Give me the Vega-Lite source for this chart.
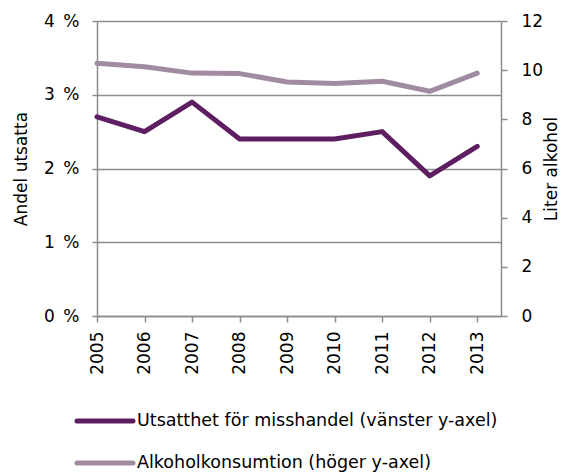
{
  "$schema": "https://vega.github.io/schema/vega-lite/v6.json",
  "width": 404,
  "height": 295,
  "autosize": {"type": "none"},
  "padding": {"left": 97, "top": 21, "right": 66, "bottom": 158},
  "background": "white",
  "config": {
    "font": "DejaVu Sans",
    "view": {"stroke": null},
    "axis": {"labelFont": "DejaVu Sans", "titleFont": "DejaVu Sans", "labelColor": "black", "titleColor": "black", "titleFontWeight": "normal", "domainColor": "#8c8c8c", "tickColor": "#8c8c8c", "gridColor": "#8c8c8c", "domainWidth": 1.5, "tickWidth": 1.5, "gridWidth": 1.5},
    "legend": {"labelFont": "DejaVu Sans", "labelColor": "black"}
  },
  "data": {
    "values": [
      {"year": 2005, "andel": 2.7, "liter": 10.28},
      {"year": 2006, "andel": 2.5, "liter": 10.14},
      {"year": 2007, "andel": 2.9, "liter": 9.88},
      {"year": 2008, "andel": 2.4, "liter": 9.86},
      {"year": 2009, "andel": 2.4, "liter": 9.52},
      {"year": 2010, "andel": 2.4, "liter": 9.46},
      {"year": 2011, "andel": 2.5, "liter": 9.55},
      {"year": 2012, "andel": 1.9, "liter": 9.14},
      {"year": 2013, "andel": 2.3, "liter": 9.88}
    ]
  },
  "encoding": {
    "x": {
      "field": "year", "type": "quantitative",
      "scale": {"domain": [2005, 2013.5], "nice": false, "zero": false},
      "axis": {"title": null, "values": [2005,2006,2007,2008,2009,2010,2011,2012,2013], "format": "d", "labelAngle": -90, "labelAlign": "right", "labelBaseline": "middle", "labelFontSize": 17, "tickSize": 6, "labelPadding": 9, "grid": false, "labelFlush": false, "labelOverlap": false}
    }
  },
  "layer": [
    {
      "mark": {"type": "line", "strokeWidth": 5, "strokeCap": "round", "strokeJoin": "round"},
      "encoding": {
        "y": {
          "field": "andel", "type": "quantitative",
          "scale": {"domain": [0, 4], "nice": false},
          "axis": {"orient": "left", "title": "Andel utsatta", "titleFontSize": 17, "titlePadding": 13, "values": [0,1,2,3,4], "labelExpr": "datum.value + '\u2002%'", "labelFontSize": 17, "tickSize": 5, "labelPadding": 13, "grid": true}
        },
        "color": {
          "datum": "Utsatthet för misshandel (vänster y-axel)", "type": "nominal",
          "scale": {"domain": ["Utsatthet för misshandel (vänster y-axel)", "Alkoholkonsumtion (höger y-axel)"], "range": ["#5e1e62", "#a08ba2"]},
          "legend": {
            "title": null, "orient": "none", "legendX": -4, "legendY": 388, "padding": 0,
            "symbolType": "M-3,0H3", "symbolSize": 348, "symbolStrokeWidth": 5,
            "labelFontSize": 17.5, "labelOffset": 20, "rowPadding": 20, "labelLimit": 500,
            "encode": {"symbols": {"update": {"strokeCap": {"value": "round"}}}}
          }
        }
      }
    },
    {
      "mark": {"type": "line", "strokeWidth": 5, "strokeCap": "round", "strokeJoin": "round"},
      "encoding": {
        "y": {
          "field": "liter", "type": "quantitative",
          "scale": {"domain": [0, 12], "nice": false},
          "axis": {"orient": "right", "title": "Liter alkohol", "titleAngle": -90, "titleFontSize": 17, "titlePadding": 18, "values": [0,2,4,6,8,10,12], "labelFontSize": 17, "tickSize": 6, "labelPadding": 14, "grid": false}
        },
        "color": {"datum": "Alkoholkonsumtion (höger y-axel)", "type": "nominal"}
      }
    }
  ],
  "resolve": {"scale": {"y": "independent"}}
}
